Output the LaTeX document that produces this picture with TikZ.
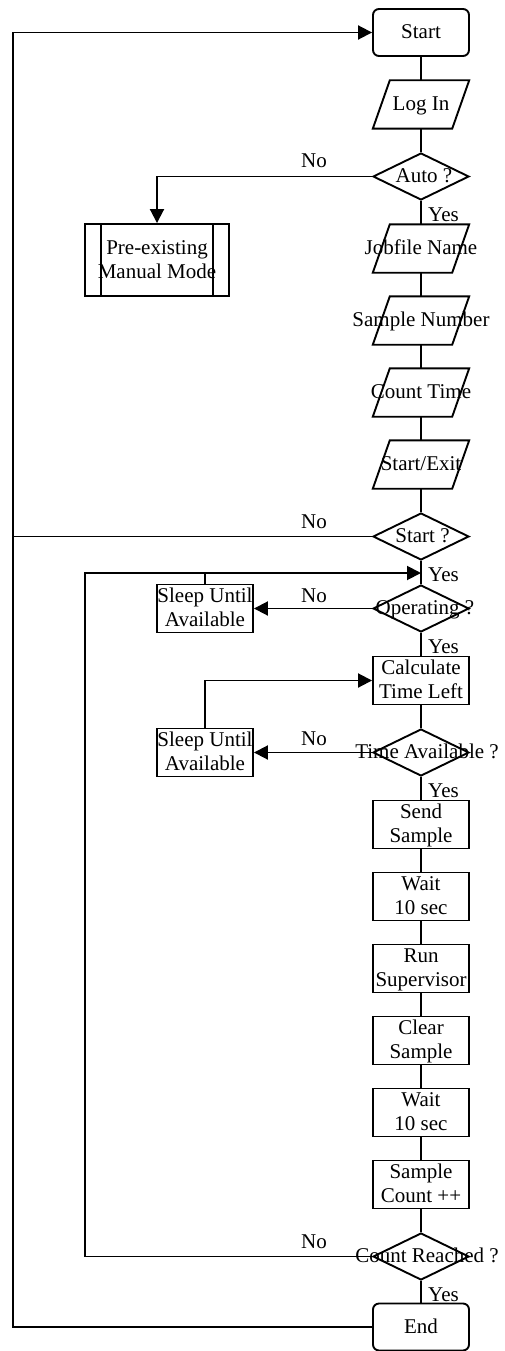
\documentclass[tikz,border=0pt]{standalone}
\usepackage{fontspec}
\setmainfont{Liberation Serif}
\usetikzlibrary{shapes.geometric,arrows.meta,calc}
\newcommand\ctext[2][0pt]{\makebox[0pt]{\hspace*{#1}\raisebox{-1.5pt}[\height][\depth]{\begin{tabular}{@{}c@{}}#2\end{tabular}}}}
\begin{document}
\begin{tikzpicture}[x=1pt,y=-1pt,
  every node/.style={font=\fontsize{21}{24}\selectfont, inner sep=0pt},
  line/.style={line width=1.9pt},
  arr/.style={line width=1.9pt,-{Triangle[length=14pt,width=14pt]}},
  term/.style={draw,line width=1.9pt,rounded corners=6pt,minimum width=96pt,minimum height=47pt},
  io/.style={minimum width=96pt,minimum height=48pt},
  proc/.style={draw,line width=1.9pt,minimum width=96pt,minimum height=48pt},
  dec/.style={draw,line width=1.9pt,diamond,minimum width=96pt,minimum height=47pt},
  lbl/.style={anchor=base},
  ylbl/.style={anchor=base west}
]
\useasboundingbox (0,0) rectangle (504,1351);
\node[term] (start) at (421,32.5) {\ctext{Start}};
\node[io] (login) at (421,104.5) {\ctext{Log In}};
\node[dec] (auto) at (421,176.5) {\ctext[6pt]{Auto ?}};
\node[io] (job) at (421,248.5) {\ctext{Jobfile Name}};
\node[io] (snum) at (421,320.5) {\ctext{Sample Number}};
\node[io] (ctime) at (421,392.5) {\ctext{Count Time}};
\node[io] (sexit) at (421,464.5) {\ctext{Start/Exit}};
\node[dec] (sq) at (421,536.5) {\ctext[3pt]{Start ?}};
\node[dec] (op) at (421,608.5) {\ctext[8pt]{Operating ?}};
\node[proc] (calc) at (421,680.5) {\ctext{Calculate\\Time Left}};
\node[dec] (ta) at (421,752.5) {\ctext[12pt]{Time Available ?}};
\node[proc] (send) at (421,824.5) {\ctext{Send\\Sample}};
\node[proc] (wait1) at (421,896.5) {\ctext{Wait\\10 sec}};
\node[proc] (run) at (421,968.5) {\ctext{Run\\Supervisor}};
\node[proc] (clear) at (421,1040.5) {\ctext{Clear\\Sample}};
\node[proc] (wait2) at (421,1112.5) {\ctext{Wait\\10 sec}};
\node[proc] (cnt) at (421,1184.5) {\ctext{Sample\\Count ++}};
\node[dec] (cr) at (421,1256.5) {\ctext[12pt]{Count Reached ?}};
\node[term] (end) at (421,1327) {\ctext{End}};
\node[proc,minimum width=144pt,minimum height=72pt] (pm) at (157,260) {\ctext{Pre-existing\\Manual Mode}};
\node[proc] (s1) at (205,608.5) {\ctext{Sleep Until\\Available}};
\node[proc] (s2) at (205,752.5) {\ctext{Sleep Until\\Available}};
% parallelogram outlines
\foreach \n in {login,job,snum,ctime,sexit}
  \draw[line] ([xshift=17pt]\n.north west) -- (\n.north east) -- ([xshift=-17pt]\n.south east) -- (\n.south west) -- cycle;
% predefined process side bars
\draw[line] ([xshift=17pt]pm.north west) -- ([xshift=17pt]pm.south west);
\draw[line] ([xshift=-17pt]pm.north east) -- ([xshift=-17pt]pm.south east);
% main column
\foreach \a/\b in {start/login,login/auto,auto/job,job/snum,snum/ctime,ctime/sexit,sexit/sq,sq/op,op/calc,calc/ta,ta/send,send/wait1,wait1/run,run/clear,clear/wait2,wait2/cnt,cnt/cr,cr/end}
  \draw[line] (\a.south) -- (\b.north);
\coordinate (L1) at (13,32.5);
\coordinate (L2) at (85,573);
\coordinate (J1) at (421,573);
\draw[arr] (end.west) -| (L1) -- (start.west);
\draw[line] (sq.west) -- (sq.west -| L1);
\draw[arr] (auto.west) -| (pm.north);
\draw[arr] (cr.west) -| (L2) -- (J1);
\draw[line] (s1.north) -- (s1.north |- J1);
\draw[arr] (op.west) -- (s1.east);
\draw[arr] (ta.west) -- (s2.east);
\draw[arr] (s2.north) |- (calc.west);
% labels
\node[lbl] (no1) at (314,168) {No};
\node[lbl] (no2) at (314,528) {No};
\node[lbl] (no3) at (314,602.5) {No};
\node[lbl] (no4) at (314,745) {No};
\node[lbl] (no5) at (314,1248) {No};
\node[ylbl] (yes1) at (428,221.5) {Yes};
\node[ylbl] (yes2) at (428,581) {Yes};
\node[ylbl] (yes3) at (428,653) {Yes};
\node[ylbl] (yes4) at (428,797) {Yes};
\node[ylbl] (yes5) at (428,1301) {Yes};
\end{tikzpicture}
\end{document}
